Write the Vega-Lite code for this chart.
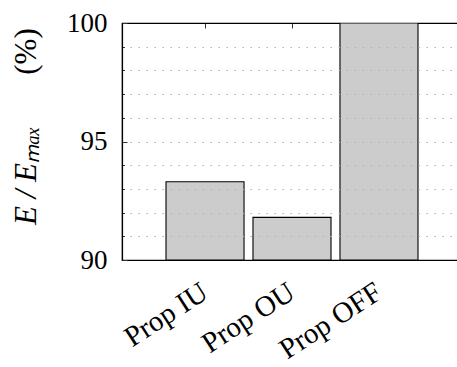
{
  "$schema": "https://vega.github.io/schema/vega-lite/v6.json",
  "width": 340,
  "height": 237,
  "autosize": "none",
  "padding": {"left": 122, "top": 23, "right": 0, "bottom": 107},
  "background": "white",
  "config": {
    "font": "Liberation Serif",
    "view": {"stroke": "black", "strokeWidth": 1.2},
    "axis": {
      "domainColor": "black",
      "domainWidth": 1.2,
      "tickColor": "#333333",
      "tickWidth": 1,
      "labelColor": "black",
      "titleColor": "black",
      "labelFont": "Liberation Serif",
      "titleFont": "Liberation Serif",
      "labelFontSize": 27,
      "labelFontWeight": "normal",
      "titleFontWeight": "normal"
    }
  },
  "data": {
    "values": [
      {"config": "Prop IU", "efficiency": 93.3},
      {"config": "Prop OU", "efficiency": 91.8},
      {"config": "Prop OFF", "efficiency": 100}
    ]
  },
  "encoding": {
    "x": {
      "field": "config",
      "type": "nominal",
      "sort": null,
      "scale": {"paddingInner": 0.103, "paddingOuter": 0.506}
    },
    "y": {
      "field": "efficiency",
      "type": "quantitative",
      "scale": {"domain": [90, 100], "nice": false, "zero": false}
    }
  },
  "layer": [
    {
      "mark": {"type": "bar", "fill": "#cccccc", "stroke": "black", "strokeWidth": 1.1, "clip": true},
      "encoding": {
        "x": {
          "field": "config",
          "type": "nominal",
          "sort": null,
          "axis": {
            "orient": "bottom",
            "title": null,
            "tickSize": -5,
            "labelAngle": -33,
            "labelAlign": "right",
            "labelBaseline": "middle",
            "labelFontSize": 29,
            "labelPadding": 34,
            "labelOffset": 0
          }
        },
        "y": {
          "field": "efficiency",
          "type": "quantitative",
          "axis": {
            "orient": "left",
            "values": [90, 91, 92, 93, 94, 95, 96, 97, 98, 99, 100],
            "labelExpr": "datum.value % 5 === 0 ? datum.label : ''",
            "grid": true,
            "gridColor": "#b4b4b4",
            "gridDash": [1.5, 6.5],
            "gridWidth": 1,
            "gridOpacity": {"condition": {"test": "datum.value === 90 || datum.value === 100", "value": 0}, "value": 1},
            "zindex": 1,
            "tickSize": {"condition": {"test": "datum.value % 5 === 0", "value": -5}, "value": -2.5},
            "labelPadding": 20,
            "labelBaseline": "middle",
            "title": "E / Eₘₐₓ",
            "titleFontStyle": "italic",
            "titleFontSize": 31,
            "titleAngle": -90,
            "titleAlign": "center",
            "titleBaseline": "alphabetic",
            "titleX": -87,
            "titleY": 152
          }
        },
        "y2": {"datum": 90}
      }
    },
    {
      "mark": {"type": "bar", "opacity": 0},
      "encoding": {
        "x": {
          "field": "config",
          "type": "nominal",
          "sort": null,
          "axis": {"orient": "top", "title": null, "labels": false, "tickSize": -5, "domain": true}
        },
        "y": {
          "field": "efficiency",
          "type": "quantitative",
          "axis": {
            "orient": "left",
            "labels": false,
            "ticks": false,
            "domain": false,
            "grid": false,
            "title": "(%)",
            "titleFontSize": 31,
            "titleAngle": -90,
            "titleAlign": "center",
            "titleBaseline": "alphabetic",
            "titleX": -87,
            "titleY": 28
          }
        }
      }
    }
  ],
  "resolve": {"axis": {"x": "independent", "y": "independent"}}
}
